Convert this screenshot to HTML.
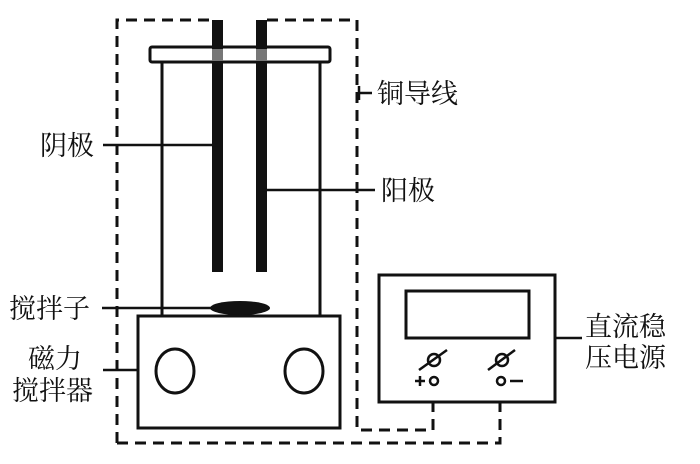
<!DOCTYPE html>
<html><head><meta charset="utf-8"><style>
html,body{margin:0;padding:0;background:#fff;}
svg text{font-family:"Liberation Serif","Noto Serif CJK SC",serif;font-size:27px;fill:#111;}
</style></head><body>
<svg width="700" height="459" viewBox="0 0 700 459" xmlns="http://www.w3.org/2000/svg">
<g fill="none" stroke="#111" stroke-width="3" stroke-dasharray="11,7">
<path d="M117,443 V20 H212"/>
<path d="M267,20 H357 V430 H433 V402"/>
<path d="M117,443 H500 V402"/>
</g>
<g stroke="#111" fill="none" stroke-width="3">
<rect x="162" y="62" width="158" height="254"/>
<rect x="150" y="47" width="180" height="15" rx="2" fill="#fff"/>
<rect x="138" y="316" width="202" height="112" fill="#fff"/>
<ellipse cx="175" cy="371" rx="19" ry="22"/>
<ellipse cx="304" cy="371" rx="19" ry="22"/>
<rect x="379" y="275" width="176" height="127"/>
<rect x="406" y="291" width="123" height="47"/>
</g>
<rect x="212" y="20" width="11" height="252" fill="#111"/>
<rect x="256" y="20" width="11" height="252" fill="#111"/>
<rect x="212" y="49" width="11" height="12" fill="#777"/>
<rect x="256" y="49" width="11" height="12" fill="#777"/>
<ellipse cx="240" cy="308" rx="30" ry="7" fill="#111"/>
<g stroke="#111" stroke-width="2.5" fill="none">
<circle cx="434" cy="360" r="6"/>
<line x1="419" y1="370" x2="447" y2="350"/>
<circle cx="502" cy="360" r="6"/>
<line x1="488" y1="370" x2="515" y2="350"/>
<circle cx="434" cy="381" r="4"/>
<circle cx="501" cy="381" r="4"/>
<line x1="415" y1="381" x2="425" y2="381"/>
<line x1="420" y1="376" x2="420" y2="386"/>
<line x1="510" y1="381" x2="523" y2="381"/>
<line x1="103" y1="145" x2="218" y2="145"/>
<line x1="262" y1="190" x2="375" y2="190"/>
<line x1="359" y1="93" x2="372" y2="93"/>
<line x1="359" y1="86" x2="359" y2="100"/>
<line x1="102" y1="308" x2="215" y2="308"/>
<line x1="103" y1="370" x2="138" y2="370"/>
<line x1="555" y1="338" x2="582" y2="338"/>
</g>
<text x="40" y="155">阴极</text>
<text x="381" y="200">阳极</text>
<text x="377" y="103">铜导线</text>
<text x="9" y="318">搅拌子</text>
<text x="28" y="368">磁力</text>
<text x="12" y="400">搅拌器</text>
<text x="585" y="336">直流稳</text>
<text x="585" y="367">压电源</text>
</svg>
</body></html>
